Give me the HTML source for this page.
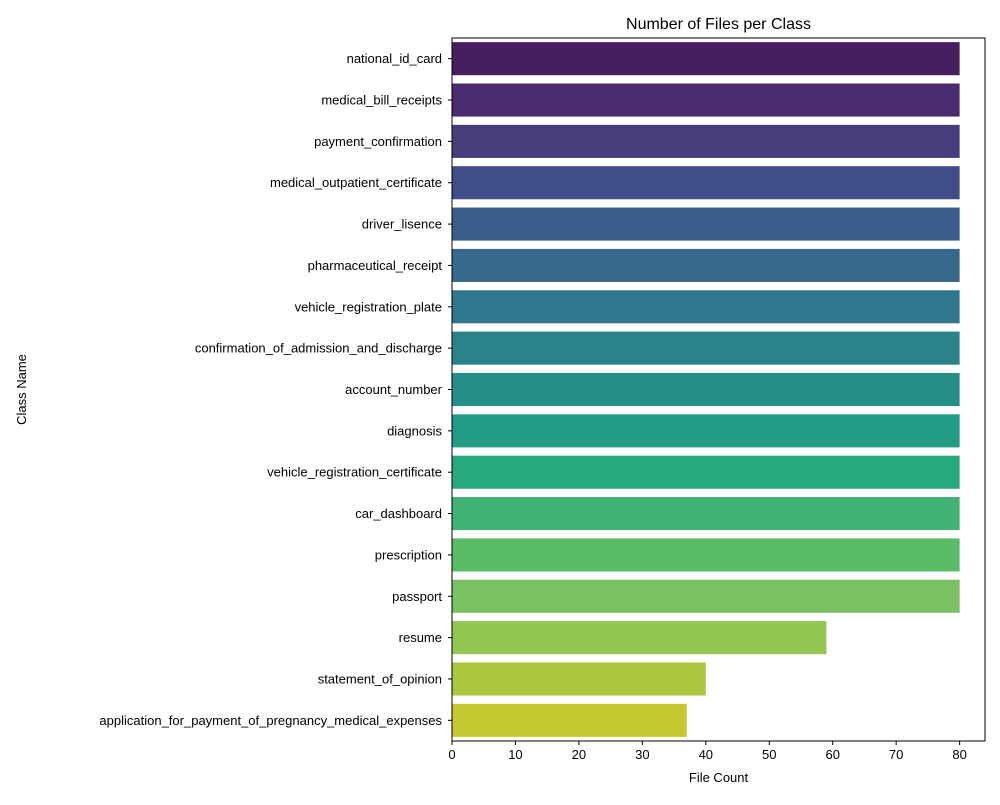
<!DOCTYPE html>
<html><head><meta charset="utf-8"><style>
body{margin:0;background:#fff;font-family:"Liberation Sans","DejaVu Sans",sans-serif;}
</style></head><body>
<svg id="chart" width="1000" height="800" xmlns="http://www.w3.org/2000/svg" font-family="Liberation Sans, DejaVu Sans, sans-serif">
<rect width="1000" height="800" fill="#fff"/>
</svg>
<script>
const categories=["national_id_card","medical_bill_receipts","payment_confirmation","medical_outpatient_certificate","driver_lisence","pharmaceutical_receipt","vehicle_registration_plate","confirmation_of_admission_and_discharge","account_number","diagnosis","vehicle_registration_certificate","car_dashboard","prescription","passport","resume","statement_of_opinion","application_for_payment_of_pregnancy_medical_expenses"];
const fileCounts=[80,80,80,80,80,80,80,80,80,80,80,80,80,80,59,40,37];
const xTicks=[0,10,20,30,40,50,60,70,80];
const colors=["#471e5e","#482c6e","#463d7b","#414d87","#3b5d8b","#36698c","#30768c","#2a838b","#258f8a","#219c85","#27a87f","#41b374","#5bbc68","#7ac164","#91c751","#acc83f","#c5cb2f"];
const svg=document.getElementById('chart');
const NS="http://www.w3.org/2000/svg";
const L=452,R=985,T=38,B=741,xMax=84;
const xs=v=>L+v/xMax*(R-L);
const band=(B-T)/categories.length;
const yc=i=>T+band*(i+0.5);
function mk(tag,attrs,txt){const e=document.createElementNS(NS,tag);for(const k in attrs)e.setAttribute(k,attrs[k]);if(txt!==undefined)e.textContent=txt;svg.appendChild(e);return e;}
categories.forEach((c,i)=>{
  const r=mk('rect',{x:xs(0),y:yc(i)-band*0.4,width:xs(fileCounts[i])-xs(0),height:band*0.8,fill:colors[i]});
  
  
  mk('line',{x1:L-4,x2:L,y1:yc(i),y2:yc(i),stroke:'#000'});
  const t=mk('text',{x:L-10,y:yc(i)+4.5,'text-anchor':'end','font-size':13},c);
  
  
});
xTicks.forEach(v=>{
  mk('line',{x1:xs(v),x2:xs(v),y1:B,y2:B+4,stroke:'#000'});
  const t=mk('text',{x:xs(v),y:B+18,'text-anchor':'middle','font-size':13},v);
  
  
});
const f=mk('rect',{x:L,y:T,width:R-L,height:B-T,fill:'none',stroke:'#000','stroke-width':1});


const ti=mk('text',{x:(L+R)/2,y:29,'text-anchor':'middle','font-size':16},'Number of Files per Class');


const xt=mk('text',{x:(L+R)/2,y:782,'text-anchor':'middle','font-size':13},'File Count');


const yt=mk('text',{x:26,y:(T+B)/2,'text-anchor':'middle','font-size':13,transform:'rotate(-90 26 '+((T+B)/2)+')'},'Class Name');


</script>
</body></html>
